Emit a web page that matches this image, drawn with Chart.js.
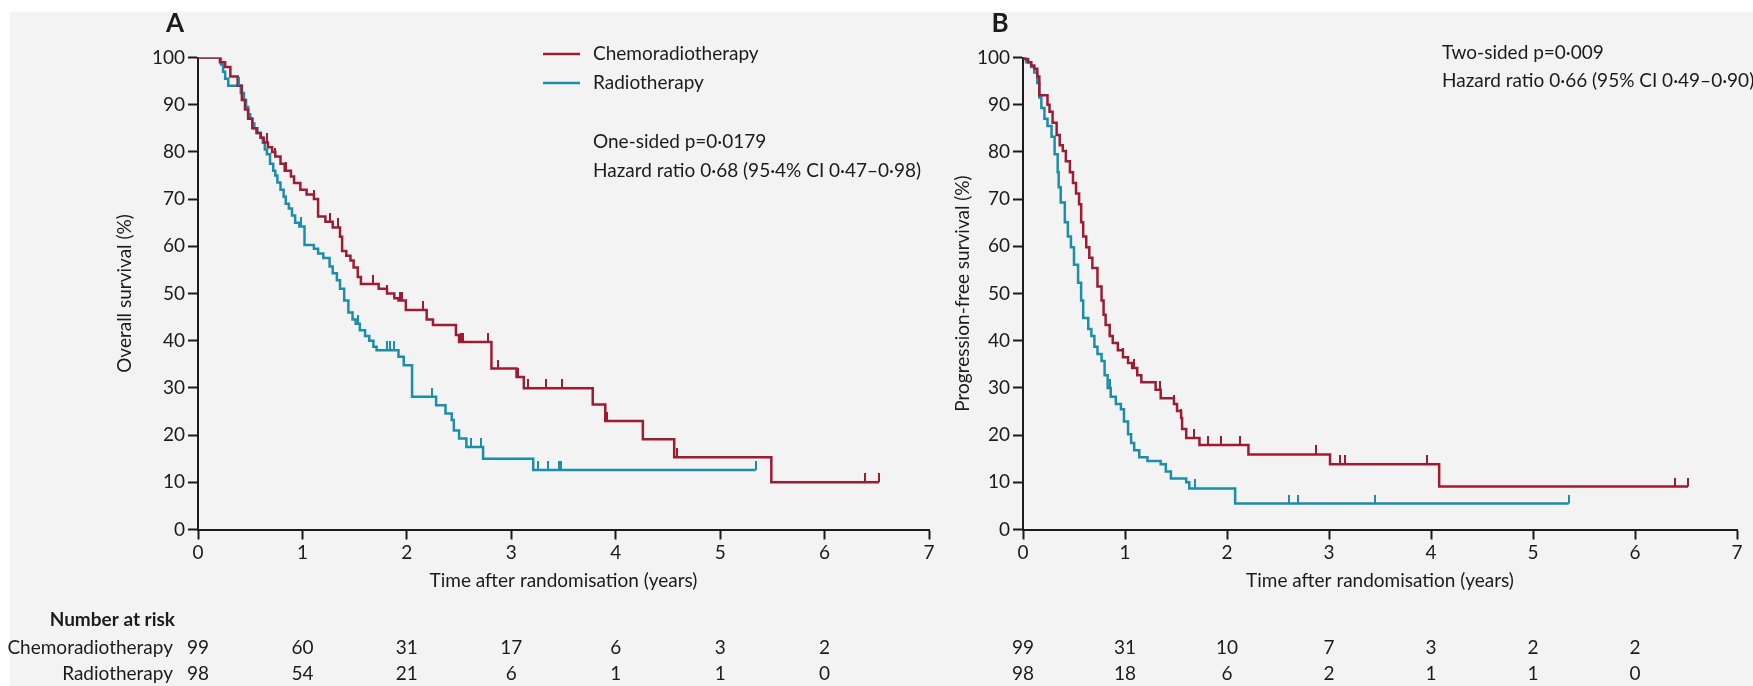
<!DOCTYPE html>
<html>
<head>
<meta charset="utf-8">
<script src="https://cdn.jsdelivr.net/npm/chart.js@4.4.1/dist/chart.umd.min.js"></script>
<style>
  html, body { margin: 0; padding: 0; }
  body { width: 1753px; height: 686px; background: #f3f3f3; position: relative; overflow: hidden; }
  .band-top { position: absolute; left: 0; top: 0; width: 1753px; height: 12px; background: #fff; }
  .band-left { position: absolute; left: 0; top: 0; width: 10px; height: 686px; background: #fff; }
  canvas { position: absolute; top: 0; }
  #osChart { left: 0; }
  #pfsChart { left: 930px; }
</style>
</head>
<body>
<div class="band-top"></div>
<div class="band-left"></div>
<canvas id="osChart" width="960" height="686"></canvas>
<canvas id="pfsChart" width="823" height="686"></canvas>
<script>
// ---- Kaplan-Meier step data: time (years) and survival (%) after each step ----
const groupNames = ['Chemoradiotherapy', 'Radiotherapy'];
const yearTicks = [0, 1, 2, 3, 4, 5, 6, 7];
const riskYears = [0, 1, 2, 3, 4, 5, 6];

// Overall survival
const osChemoTime = [0, 0.21, 0.26, 0.31, 0.38, 0.42, 0.45, 0.48, 0.52, 0.56, 0.60, 0.63, 0.67, 0.71, 0.74, 0.79, 0.83, 0.89, 0.92, 0.98, 1.04, 1.11, 1.15, 1.22, 1.29, 1.36, 1.38, 1.42, 1.46, 1.49, 1.53, 1.56, 1.73, 1.81, 1.88, 1.92, 1.99, 2.19, 2.25, 2.47, 2.50, 2.81, 3.05, 3.12, 3.78, 3.90, 4.26, 4.56, 5.49, 6.52];
const osChemoSurv = [100, 99, 98, 96, 94, 91, 89, 87, 85, 84, 83, 82, 81, 80, 79, 77.5, 76, 74.8, 73.4, 72, 71, 70, 66.3, 65.2, 64, 62, 59, 58, 57, 55.5, 53.5, 52, 51, 50, 49, 48.5, 46.5, 44.5, 43.3, 41.2, 39.7, 34.1, 32.3, 29.9, 26.5, 23.0, 19.1, 15.3, 10.0, 10.0];
const osChemoCensored = [0.66, 0.74, 0.84, 1.11, 1.26, 1.34, 1.68, 1.81, 1.93, 1.95, 2.15, 2.52, 2.54, 2.78, 2.87, 3.06, 3.16, 3.33, 3.49, 3.92, 4.59, 6.39, 6.52];

const osRadioTime = [0, 0.22, 0.24, 0.26, 0.29, 0.41, 0.44, 0.46, 0.48, 0.50, 0.52, 0.54, 0.57, 0.60, 0.62, 0.64, 0.66, 0.69, 0.72, 0.74, 0.76, 0.79, 0.82, 0.84, 0.87, 0.90, 0.93, 0.97, 1.02, 1.11, 1.15, 1.20, 1.26, 1.29, 1.33, 1.36, 1.40, 1.44, 1.48, 1.51, 1.55, 1.60, 1.64, 1.68, 1.71, 1.92, 1.97, 2.05, 2.28, 2.37, 2.43, 2.45, 2.50, 2.57, 2.73, 3.21, 5.34];
const osRadioSurv = [100, 98.5, 97, 95.5, 94, 92.5, 91, 89.5, 88, 87, 86, 85, 84, 83, 82, 80.5, 79.5, 77.5, 76, 75, 73.5, 72, 70.5, 69, 68, 66.5, 65, 64.2, 60.3, 59.5, 58.5, 57.5, 55.7, 54.3, 52.8, 51, 48.5, 46, 44.5, 43.6, 42.2, 41, 40, 38.7, 38, 36.6, 34.8, 28.1, 26.3, 24.6, 23.2, 21, 19.3, 17.5, 15, 12.6, 12.6];
const osRadioCensored = [0.39, 0.99, 1.53, 1.81, 1.84, 1.88, 2.24, 2.61, 2.71, 3.26, 3.35, 3.46, 3.48, 5.34];

const osRiskChemo = [99, 60, 31, 17, 6, 3, 2];
const osRiskRadio = [98, 54, 21, 6, 1, 1, 0];

// Progression-free survival
const pfsChemoTime = [0, 0.02, 0.05, 0.08, 0.11, 0.14, 0.16, 0.24, 0.26, 0.29, 0.33, 0.36, 0.39, 0.42, 0.46, 0.49, 0.52, 0.55, 0.57, 0.59, 0.62, 0.65, 0.68, 0.73, 0.77, 0.79, 0.81, 0.85, 0.88, 0.93, 0.98, 1.03, 1.07, 1.12, 1.16, 1.30, 1.35, 1.48, 1.51, 1.55, 1.56, 1.60, 1.73, 2.21, 3.01, 4.08, 6.52];
const pfsChemoSurv = [100, 99.7, 99, 98.3, 97.6, 96, 92, 90, 88.5, 86.2, 83.6, 81.4, 80.2, 78, 75.7, 73.4, 71.2, 68.9, 65.1, 62.1, 59.8, 57.6, 55.4, 51.5, 48.5, 45.5, 43.3, 41, 39.5, 38, 36.5, 35.3, 34.2, 32.7, 31.2, 29.6, 27.8, 26.6, 25.1, 23.6, 21.3, 19.4, 17.9, 15.9, 13.8, 9.1, 9.1];
const pfsChemoCensored = [0.98, 1.09, 1.34, 1.48, 1.55, 1.68, 1.81, 1.94, 2.13, 2.87, 3.11, 3.16, 3.96, 6.39, 6.52];

const pfsRadioTime = [0, 0.03, 0.08, 0.11, 0.14, 0.16, 0.18, 0.21, 0.24, 0.28, 0.31, 0.34, 0.35, 0.37, 0.41, 0.44, 0.47, 0.50, 0.54, 0.57, 0.59, 0.64, 0.67, 0.70, 0.73, 0.77, 0.80, 0.83, 0.86, 0.91, 0.96, 0.99, 1.03, 1.06, 1.09, 1.14, 1.22, 1.35, 1.40, 1.45, 1.60, 1.63, 2.08, 5.35];
const pfsRadioSurv = [100, 99, 98, 96.8, 94.6, 91.5, 89.3, 87, 85.5, 83.2, 79.5, 75.7, 72.5, 69.3, 65.1, 62.1, 59.8, 56.1, 52.3, 48.5, 44.8, 42.5, 41, 38.7, 37.2, 35.7, 32.7, 30, 28.1, 26.6, 25.5, 22.9, 20.2, 18.3, 16.8, 15.3, 14.5, 13.8, 12.3, 10.8, 10, 8.7, 5.5, 5.5];
const pfsRadioCensored = [0.44, 0.64, 0.85, 1.69, 2.61, 2.70, 3.45, 5.35];

const pfsRiskChemo = [99, 31, 10, 7, 3, 2, 2];
const pfsRiskRadio = [98, 18, 6, 2, 1, 1, 0];

// ---- styling ----
const RED = '#9e1b32';
const TEAL = '#1b8eab';
const INK = '#1b1b1b';
const FONT = 'Lato, "Open Sans", sans-serif';
const FONT_SIZE = 19;

Chart.defaults.font.family = FONT;
Chart.defaults.font.size = FONT_SIZE;
Chart.defaults.color = INK;

function toPoints(times, values) {
  return times.map((t, i) => ({ x: t, y: values[i] }));
}

// survival level of a step curve at time t
function levelAt(times, values, t) {
  let v = values[0];
  for (let i = 0; i < times.length; i++) {
    if (times[i] <= t + 1e-9) v = values[i]; else break;
  }
  return v;
}

function censorPoints(times, values, censored) {
  return censored.map(t => ({ x: t, y: levelAt(times, values, t) }));
}

// small upward tick used as the censoring mark
function censorMark(color) {
  const c = document.createElement('canvas');
  c.width = 2; c.height = 18;
  const g = c.getContext('2d');
  g.fillStyle = color;
  g.fillRect(0, 0, 2, 9);
  return c;
}

// panel letter, legend, statistics and number-at-risk table
const panelText = {
  id: 'panelText',
  afterDraw(chart, args, opts) {
    const ctx = chart.ctx;
    const xs = chart.scales.x;
    ctx.save();
    ctx.fillStyle = INK;
    ctx.textBaseline = 'middle';

    ctx.font = 'bold 26px ' + FONT;
    ctx.textAlign = 'center';
    ctx.fillText(opts.letter, opts.letterX, 24);

    ctx.font = FONT_SIZE + 'px ' + FONT;
    ctx.textAlign = 'left';
    if (opts.legend) {
      const lines = chart.data.datasets.filter(d => !d.isCensor);
      lines.forEach((d, i) => {
        const y = opts.legendY[i];
        ctx.strokeStyle = d.borderColor;
        ctx.lineWidth = 2.5;
        ctx.beginPath();
        ctx.moveTo(opts.legendX, y);
        ctx.lineTo(opts.legendX + 37, y);
        ctx.stroke();
        ctx.fillText(d.label, opts.legendX + 50, y);
      });
    }
    opts.notes.forEach((line, i) => {
      ctx.fillText(line, opts.notesX, opts.notesY[i]);
    });

    if (opts.rowLabels) {
      ctx.textAlign = 'right';
      ctx.font = 'bold ' + FONT_SIZE + 'px ' + FONT;
      ctx.fillText('Number at risk', 175, 620);
      ctx.font = FONT_SIZE + 'px ' + FONT;
      ctx.fillText(groupNames[0], 173, 648);
      ctx.fillText(groupNames[1], 173, 674);
    }
    ctx.textAlign = 'center';
    ctx.font = FONT_SIZE + 'px ' + FONT;
    opts.risk.forEach((row, r) => {
      row.forEach((n, i) => {
        ctx.fillText(String(n), xs.getPixelForValue(riskYears[i]), 648 + r * 26);
      });
    });
    ctx.restore();
  }
};

function makeChart(id, cfg) {
  const lineDs = (label, color, t, s) => ({
    label, data: toPoints(t, s), borderColor: color, backgroundColor: color,
    borderWidth: 2.5, stepped: true, pointRadius: 0, fill: false, order: 1
  });
  const censorDs = (color, t, s, c) => ({
    isCensor: true, type: 'scatter', data: censorPoints(t, s, c),
    pointStyle: censorMark(color), pointRadius: 4, showLine: false, order: 0
  });
  return new Chart(document.getElementById(id), {
    type: 'line',
    data: {
      datasets: [
        lineDs(groupNames[0], RED, cfg.chemoT, cfg.chemoS),
        lineDs(groupNames[1], TEAL, cfg.radioT, cfg.radioS),
        censorDs(RED, cfg.chemoT, cfg.chemoS, cfg.chemoC),
        censorDs(TEAL, cfg.radioT, cfg.radioS, cfg.radioC)
      ]
    },
    options: {
      responsive: false,
      animation: false,
      events: [],
      layout: { padding: cfg.padding },
      plugins: {
        legend: { display: false },
        tooltip: { enabled: false },
        panelText: cfg.text
      },
      scales: {
        x: {
          type: 'linear', min: 0, max: 7,
          afterBuildTicks: s => { s.ticks = yearTicks.map(v => ({ value: v })); },
          afterFit: s => { s.height = 63; },
          grid: { drawOnChartArea: false, drawTicks: true, tickLength: 10, tickWidth: 2, tickColor: INK },
          border: { display: true, color: INK, width: 2 },
          ticks: { padding: 2, color: INK, maxRotation: 0 },
          title: { display: true, text: 'Time after randomisation (years)', color: INK, padding: 0 }
        },
        y: {
          min: 0, max: 100,
          ticks: { stepSize: 10, padding: 3, color: INK },
          afterFit: s => { s.width = cfg.yWidth; },
          grid: { drawOnChartArea: false, drawTicks: true, tickLength: 10, tickWidth: 2, tickColor: INK },
          border: { display: true, color: INK, width: 2 },
          title: { display: true, text: cfg.yTitle, color: INK, padding: 0 }
        }
      }
    },
    plugins: [panelText]
  });
}

makeChart('osChart', {
  chemoT: osChemoTime, chemoS: osChemoSurv, chemoC: osChemoCensored,
  radioT: osRadioTime, radioS: osRadioSurv, radioC: osRadioCensored,
  yTitle: 'Overall survival (%)',
  padding: { left: 113.6, right: 31, top: 57.5, bottom: 93.5 },
  yWidth: 84.4,
  text: {
    letter: 'A', letterX: 175,
    legend: true, legendX: 543, legendY: [54, 83],
    notesX: 593, notesY: [142, 171],
    notes: ['One-sided p=0\u00b70179', 'Hazard ratio 0\u00b768 (95\u00b74% CI 0\u00b747\u20130\u00b798)'],
    rowLabels: true,
    risk: [osRiskChemo, osRiskRadio]
  }
});

makeChart('pfsChart', {
  chemoT: pfsChemoTime, chemoS: pfsChemoSurv, chemoC: pfsChemoCensored,
  radioT: pfsRadioTime, radioS: pfsRadioSurv, radioC: pfsRadioCensored,
  yTitle: 'Progression-free survival (%)',
  padding: { left: 21.6, right: 16, top: 57.5, bottom: 93.5 },
  yWidth: 71.4,
  text: {
    letter: 'B', letterX: 70,
    legend: false,
    notesX: 512, notesY: [53, 81],
    notes: ['Two-sided p=0\u00b7009', 'Hazard ratio 0\u00b766 (95% CI 0\u00b749\u20130\u00b790)'],
    rowLabels: false,
    risk: [pfsRiskChemo, pfsRiskRadio]
  }
});
</script>
</body>
</html>
